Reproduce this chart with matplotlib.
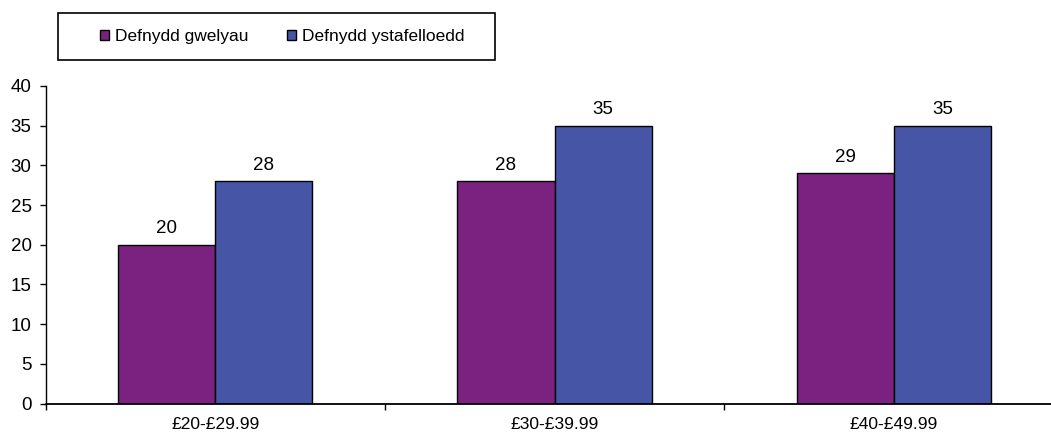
import matplotlib
matplotlib.use("Agg")
import matplotlib.pyplot as plt
from matplotlib.patches import Rectangle
import numpy as np

plt.rcParams['font.family'] = ['Liberation Sans', 'DejaVu Sans']

categories = ["£20-£29.99", "£30-£39.99", "£40-£49.99"]
series_names = ["Defnydd gwelyau", "Defnydd ystafelloedd"]
gwelyau = [20, 28, 29]
ystafelloedd = [28, 35, 35]
colors = ["#7B217F", "#4655A5"]

W, H = 1051, 434
fig = plt.figure(figsize=(W / 100, H / 100), dpi=100)
ax = fig.add_axes([45.5 / W, 1 - 403.5 / H, 1018 / W, (403.5 - 86) / H])

x = np.arange(len(categories))
bw = 0.286
b1 = ax.bar(x - bw / 2, gwelyau, bw, color=colors[0], edgecolor="black", linewidth=1, label=series_names[0])
b2 = ax.bar(x + bw / 2, ystafelloedd, bw, color=colors[1], edgecolor="black", linewidth=1, label=series_names[1])
for bars in (b1, b2):
    ax.bar_label(bars, padding=5.5, fontsize=13.5)

ax.set_xlim(-0.5, 2.5)
ax.set_ylim(0, 40)
ax.set_yticks(range(0, 41, 5))
ax.set_xticks(x)
ax.set_xticklabels(categories)
ax.set_xticks([-0.5, 0.5, 1.5], minor=True)
ax.tick_params(axis='x', which='major', length=0, labelsize=12.5, pad=9.5)
ax.tick_params(axis='x', which='minor', length=4, width=1, direction='out')
ax.tick_params(axis='y', length=4, width=1, labelsize=13.5, pad=6)
for s in ("top", "right"):
    ax.spines[s].set_visible(False)
ax.spines['left'].set_linewidth(1)
ax.spines['bottom'].set_linewidth(1.3)

# legend frame (Excel-style box)
fig.patches.append(Rectangle((58 / W, 1 - 60 / H), (495 - 58) / W, (60 - 13) / H,
                             transform=fig.transFigure, fill=False,
                             edgecolor='black', linewidth=1.2))

fs = 12.5
fs_px = fs * 100 / 72
renderer = fig.canvas.get_renderer()
t = fig.text(0, 0, series_names[0], fontsize=fs)
w1 = t.get_window_extent(renderer).width
t.remove()
handle_px = 9
textpad_px = 6
col2_start = 287
colspacing = (col2_start - (100 + handle_px + textpad_px + w1)) / fs_px

leg = fig.legend(handles=[b1, b2], labels=series_names, loc='center left',
                 bbox_to_anchor=(100 / W, 1 - 36.5 / H), ncol=2, frameon=False,
                 fontsize=fs, handlelength=handle_px / fs_px, handleheight=0.55,
                 handletextpad=textpad_px / fs_px, columnspacing=colspacing,
                 borderpad=0, borderaxespad=0)
fig.savefig("out.png", dpi=100)
